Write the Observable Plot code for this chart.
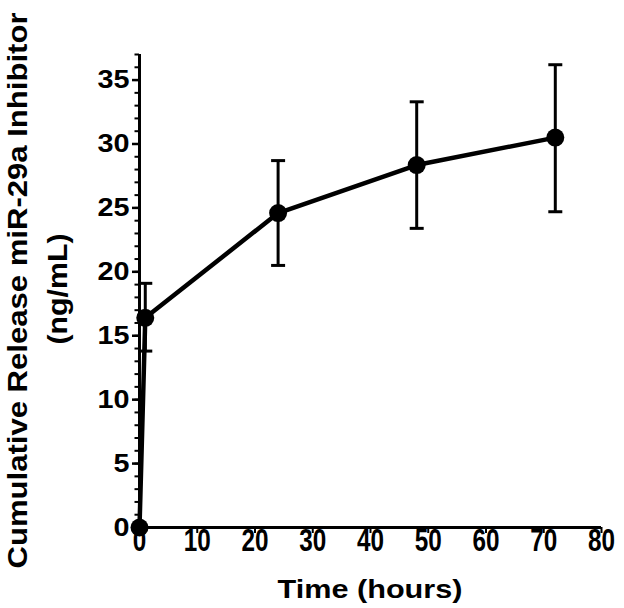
<!DOCTYPE html>
<html><head><meta charset="utf-8">
<script src="https://cdn.jsdelivr.net/npm/d3@7"></script>
<script src="https://cdn.jsdelivr.net/npm/@observablehq/plot@0.6"></script>
<style>body{margin:0;background:#fff} svg{display:block}</style>
</head><body><div id="chart"></div>
<script>
const hours = [0, 1, 24, 48, 72];
const release = [0, 16.4, 24.6, 28.35, 30.5];
const errLow = [0, 13.8, 20.5, 23.4, 24.7];
const errHigh = [0, 19.1, 28.7, 33.3, 36.2];
const xTicks = [0, 10, 20, 30, 40, 50, 60, 70, 80];
const yTicks = [0, 5, 10, 15, 20, 25, 30, 35];
const yMinorTicks = d3.range(0, 38);
const xTitle = "Time (hours)";
const yTitle1 = "Cumulative Release miR-29a Inhibitor";
const yTitle2 = "(ng/mL)";

const data = hours.map((h, i) => ({h, v: release[i], lo: errLow[i], hi: errHigh[i]}));
const errData = data.filter(d => d.hi > d.lo);
const cap = {draw(ctx) { ctx.moveTo(-7, 0); ctx.lineTo(7, 0); }};
const font = "'Liberation Sans', Arial, sans-serif";

const chart = Plot.plot({
  width: 624, height: 608,
  marginLeft: 139, marginRight: 23, marginTop: 54, marginBottom: 81,
  x: {domain: [0, 80]},
  y: {domain: [0, 37]},
  style: {fontFamily: font, background: "#fff", color: "#000", overflow: "visible"},
  marks: [
    Plot.axisY(yMinorTicks, {tickSize: 4.5, strokeWidth: 2, text: null, label: null}),
    Plot.axisY(yTicks, {tickSize: 7, tickPadding: 3, strokeWidth: 2.5, fontSize: 26, fontWeight: "bold", label: null}),
    Plot.axisX(xTicks, {tickSize: 6, tickPadding: -5, strokeWidth: 2, fontSize: 32, fontWeight: "bold", label: null}),
    Plot.ruleX([0], {y1: 0, y2: 37, strokeWidth: 3}),
    Plot.ruleY([0], {x1: 0, x2: 80, strokeWidth: 3}),
    Plot.ruleX(errData, {x: "h", y1: "lo", y2: "hi", strokeWidth: 3}),
    Plot.dot(errData, {x: "h", y: "lo", symbol: cap, stroke: "black", strokeWidth: 3}),
    Plot.dot(errData, {x: "h", y: "hi", symbol: cap, stroke: "black", strokeWidth: 3}),
    Plot.line(data, {x: "h", y: "v", stroke: "black", strokeWidth: 4.5}),
    Plot.dot(data, {x: "h", y: "v", r: 9, fill: "black"}),
    Plot.text([xTitle], {frameAnchor: "bottom", textAnchor: "start", lineAnchor: "middle", dx: -93, dy: 62, fontSize: 25, fontWeight: "bold"}),
    Plot.text([yTitle1], {frameAnchor: "left", rotate: -90, textAnchor: "start", lineAnchor: "middle", dx: -121.5, dy: 277.5, fontSize: 28, fontWeight: "bold"}),
    Plot.text([yTitle2], {frameAnchor: "left", rotate: -90, textAnchor: "start", lineAnchor: "middle", dx: -81, dy: 53.5, fontSize: 28, fontWeight: "bold"})
  ]
});

const sel = d3.select(chart);
const stretch = (txt, len) => sel.selectAll("text").filter(function () { return this.textContent === txt; })
  .attr("textLength", len).attr("lengthAdjust", "spacingAndGlyphs");
stretch(xTitle, 185);
stretch(yTitle1, 556);
stretch(yTitle2, 111);
sel.selectAll("g[aria-label='x-axis tick label'] text")
  .attr("textLength", function () { return 13.5 * this.textContent.length; })
  .attr("lengthAdjust", "spacingAndGlyphs");
sel.selectAll("g[aria-label='y-axis tick label'] text")
  .attr("textLength", function () { return 16 * this.textContent.length; })
  .attr("lengthAdjust", "spacingAndGlyphs");

document.getElementById("chart").appendChild(chart);
</script>
</body></html>
